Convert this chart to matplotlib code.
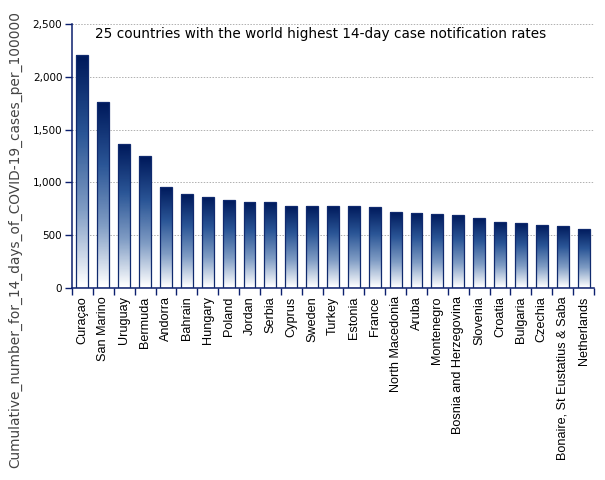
import matplotlib.pyplot as plt
import numpy as np
from matplotlib.colors import LinearSegmentedColormap
from matplotlib.ticker import FuncFormatter

countries = ['Curaçao', 'San Marino', 'Uruguay', 'Bermuda', 'Andorra', 'Bahrain',
             'Hungary', 'Poland', 'Jordan', 'Serbia', 'Cyprus', 'Sweden', 'Turkey',
             'Estonia', 'France', 'North Macedonia', 'Aruba', 'Montenegro',
             'Bosnia and Herzegovina', 'Slovenia', 'Croatia', 'Bulgaria', 'Czechia',
             'Bonaire, St Eustatius & Saba', 'Netherlands']
rates = [2203, 1764, 1368, 1250, 958, 889, 865, 837, 818, 818, 777, 777, 777,
         777, 768, 721, 712, 704, 694, 665, 627, 617, 598, 588, 563]

title = '25 countries with the world highest 14-day case notification rates'
ylabel = 'Cumulative_number_for_14_days_of_COVID-19_cases_per_100000'

navy = '#0b1f6e'
grad = LinearSegmentedColormap.from_list('g', ['#ffffff', '#7f9cc4', '#2a5596', '#001a5c'])

fig = plt.figure(figsize=(6.05, 4.8), dpi=100)
ax = fig.add_axes([72 / 605, 192 / 480, 522 / 605, 264 / 480])

x = np.arange(len(countries))
width = 0.57
bars = ax.bar(x, rates, width=width, facecolor='none', edgecolor='#102a6e',
              linewidth=0.9, zorder=3)

# vertical gradient inside every bar
g = np.linspace(0, 1, 40).reshape(-1, 1)
for b in bars:
    x0, y0 = b.get_x(), b.get_y()
    im = ax.imshow(g, cmap=grad, aspect='auto', origin='lower',
                   extent=[x0, x0 + b.get_width(), y0, y0 + b.get_height()],
                   zorder=2, interpolation='bilinear')
    im.set_clip_path(b)

ax.set_xlim(-0.5, len(countries) - 0.5)
ax.set_ylim(0, 2500)
ax.set_yticks([0, 500, 1000, 1500, 2000, 2500])
ax.yaxis.set_major_formatter(FuncFormatter(lambda v, p: f'{int(v):,}'))
ax.grid(axis='y', linestyle=(0, (1.5, 1.5)), color='#b0b0b0', linewidth=0.7, zorder=0)

ax.set_xticks(x)
ax.set_xticklabels(countries, rotation=90, fontsize=9.1, family='Liberation Sans')
ax.set_xticks(np.arange(len(countries) + 1) - 0.5, minor=True)
ax.tick_params(axis='x', which='major', length=0, pad=6)
ax.tick_params(axis='x', which='minor', length=5, color=navy, width=1)
ax.tick_params(axis='y', length=5, color=navy, width=1, labelsize=7.5, pad=2)

for s in ['top', 'right']:
    ax.spines[s].set_visible(False)
for s in ['left', 'bottom']:
    ax.spines[s].set_color(navy)
    ax.spines[s].set_linewidth(1.1)

# y label centred on the figure height, not on the axes
fig.text(15 / 605, 0.5, ylabel, rotation=90, fontsize=9.95, color='#444444',
         ha='center', va='center')
ax.text(0.045, 0.988, title, transform=ax.transAxes, fontsize=9.85, va='top', ha='left')

fig.savefig('out.png', dpi=100)
